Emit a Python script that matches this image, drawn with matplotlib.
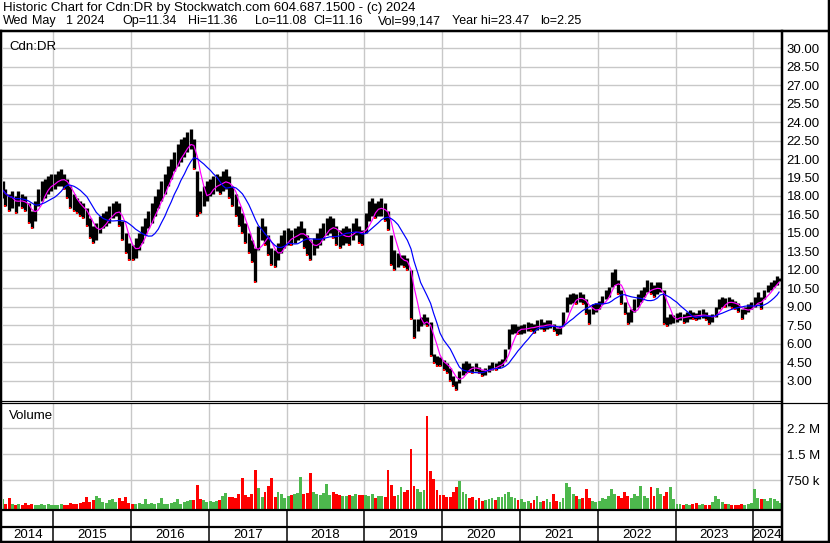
import numpy as np
import pandas as pd
import matplotlib
matplotlib.use('Agg')
import matplotlib.pyplot as plt
from matplotlib.lines import Line2D

plt.rcParams['font.family'] = ['Liberation Sans', 'DejaVu Sans']

# semi-monthly price ranges (low / high), May 2014 .. Apr 2024
low_2014 = [17.8, 17.2, 16.8, 17.0, 16.6, 17.2, 17.0, 16.8, 15.8, 15.4, 16.0, 17.2, 17.6, 17.8, 18.2, 18.4]
high_2014 = [19.2, 18.6, 18.2, 18.4, 18.0, 18.4, 18.2, 18.0, 17.4, 16.8, 17.6, 18.6, 19.2, 19.4, 19.6, 19.8]
low_2015 = [18.6, 18.8, 18.8, 18.6, 17.8, 17.0, 16.8, 16.6, 16.4, 16.2, 15.6, 14.6, 14.2, 14.4, 15.0, 15.4,
            15.6, 15.8, 16.2, 16.4, 15.6, 14.4, 13.4, 12.8]
high_2015 = [19.8, 20.0, 20.2, 19.8, 19.4, 18.8, 18.2, 17.8, 17.6, 17.4, 17.0, 16.2, 15.6, 15.8, 16.4, 16.6,
             16.8, 17.2, 17.4, 17.6, 17.4, 16.0, 15.0, 14.2]
low_2016 = [12.8, 13.0, 13.6, 14.2, 14.8, 15.4, 15.8, 16.4, 17.0, 17.6, 18.2, 18.8, 19.4, 20.0, 20.4, 20.8,
            21.2, 21.6, 21.8, 20.2, 16.4, 16.6, 17.2, 17.6]
high_2016 = [14.0, 14.6, 15.0, 15.6, 16.2, 16.8, 17.4, 18.0, 18.6, 19.2, 19.8, 20.4, 21.0, 21.6, 22.2, 22.6,
             22.8, 23.2, 23.47, 22.6, 20.0, 18.4, 18.8, 19.2]
low_2017 = [18.0, 18.2, 18.4, 18.2, 18.4, 18.6, 17.8, 17.2, 16.4, 15.6, 15.0, 14.2, 13.4, 12.6, 11.0, 13.6,
            14.4, 14.0, 13.2, 12.4, 12.2, 12.8, 13.4, 13.8]
high_2017 = [19.4, 19.6, 19.8, 19.6, 20.0, 20.2, 19.6, 18.8, 18.2, 17.2, 16.6, 15.8, 15.0, 14.4, 13.8, 15.6,
             16.2, 15.6, 14.8, 13.8, 13.6, 14.2, 14.8, 15.2]
low_2018 = [14.0, 14.0, 14.2, 14.4, 14.6, 13.8, 13.2, 12.8, 13.2, 13.8, 14.0, 14.4, 14.8, 15.0, 14.6, 14.0,
            13.8, 14.0, 14.2, 14.0, 14.4, 14.8, 14.2, 14.0]
high_2018 = [15.4, 15.2, 15.4, 15.6, 16.0, 15.4, 14.8, 14.4, 14.6, 15.0, 15.4, 15.8, 16.2, 16.4, 16.2, 15.6,
             15.2, 15.4, 15.6, 15.4, 15.8, 16.2, 15.6, 15.2]
low_2019 = [15.0, 16.0, 16.4, 16.2, 16.4, 16.4, 16.0, 15.2, 12.4, 12.0, 12.2, 12.4, 12.2, 12.0, 8.0, 6.5,
            7.0, 7.4, 7.6, 7.4, 5.0, 4.4, 4.2, 4.2]
high_2019 = [16.6, 17.6, 17.8, 17.4, 17.6, 17.8, 17.4, 16.8, 14.8, 13.6, 13.4, 13.2, 13.2, 13.0, 12.0, 8.0,
             8.0, 8.2, 8.4, 8.2, 7.8, 5.2, 5.0, 4.9]
low_2020 = [3.9, 3.6, 3.0, 2.6, 2.25, 2.8, 3.5, 3.6, 3.7, 3.6, 3.8, 3.6, 3.4, 3.5, 3.7, 3.9,
            3.9, 4.0, 4.2, 4.6, 5.6, 6.8, 6.9, 6.8]
high_2020 = [4.7, 4.4, 4.0, 3.4, 3.0, 3.8, 4.4, 4.6, 4.4, 4.2, 4.4, 4.1, 3.9, 4.0, 4.3, 4.5,
             4.4, 4.6, 4.8, 5.6, 7.2, 7.6, 7.6, 7.4]
low_2021 = [6.8, 6.9, 7.0, 7.0, 6.9, 7.1, 7.2, 7.0, 7.2, 7.3, 7.0, 6.7, 6.8, 7.4, 8.6, 9.2,
            9.3, 9.2, 9.4, 9.2, 8.4, 7.6, 8.4, 8.6]
high_2021 = [7.5, 7.6, 7.8, 7.7, 7.6, 7.9, 8.0, 7.8, 7.9, 7.9, 7.6, 7.3, 7.4, 8.6, 9.8, 10.0,
             10.1, 10.0, 10.2, 10.0, 9.6, 8.8, 9.2, 9.3]
low_2022 = [8.8, 9.2, 9.6, 9.8, 10.6, 10.8, 10.0, 9.2, 8.4, 7.6, 7.8, 8.6, 9.0, 9.4, 9.8, 10.2,
            10.0, 9.8, 10.0, 10.2, 7.6, 7.4, 7.6, 7.7]
high_2022 = [9.5, 9.9, 10.4, 10.6, 11.8, 12.1, 11.2, 10.4, 9.4, 8.6, 8.8, 9.6, 10.0, 10.4, 10.6, 11.2,
             11.0, 10.8, 11.0, 11.0, 10.4, 8.2, 8.4, 8.3]
low_2023 = [7.8, 7.9, 7.7, 7.8, 8.0, 8.0, 7.9, 8.0, 8.1, 7.9, 7.6, 7.8, 8.2, 8.8, 9.0, 9.0,
            9.1, 8.9, 8.8, 8.6, 8.0, 8.4, 8.6, 8.8]
high_2023 = [8.5, 8.6, 8.4, 8.6, 8.7, 8.6, 8.5, 8.7, 8.8, 8.6, 8.3, 8.4, 9.0, 9.6, 9.8, 9.7,
             9.8, 9.6, 9.5, 9.3, 8.8, 9.0, 9.2, 9.4]
low_2024 = [9.0, 9.2, 8.8, 9.6, 10.2, 10.4, 10.6, 10.8, 11.08]
high_2024 = [9.8, 10.2, 9.8, 10.4, 10.8, 11.0, 11.2, 11.5, 11.36]

# typical daily volume in each half month (thousands of shares)
vol_2014 = [200, 60, 230, 80, 50, 60, 40, 90, 40, 70, 50, 40, 70, 50, 60, 40]
vol_2015 = [50, 40, 60, 50, 40, 90, 70, 60, 100, 130, 260, 120, 180, 306, 250, 120,
            100, 170, 200, 130, 230, 150, 280, 100]
vol_2016 = [80, 60, 100, 70, 200, 80, 90, 70, 100, 230, 80, 70, 100, 120, 210, 80,
            110, 150, 190, 180, 615, 200, 190, 130]
vol_2017 = [150, 120, 160, 180, 300, 392, 280, 260, 230, 350, 815, 320, 280, 350, 1060, 520,
            280, 400, 585, 815, 280, 400, 350, 250]
vol_2018 = [300, 320, 350, 380, 845, 350, 380, 960, 420, 350, 330, 380, 643, 330, 400, 360,
            330, 300, 290, 340, 290, 360, 320, 340]
vol_2019 = [340, 290, 360, 240, 300, 290, 270, 1050, 600, 290, 330, 548, 400, 480, 1650, 580,
            500, 400, 480, 2600, 1020, 780, 460, 330]
vol_2020 = [330, 280, 260, 400, 548, 730, 413, 350, 230, 280, 180, 230, 160, 180, 200, 230,
            180, 260, 280, 350, 420, 280, 230, 180]
vol_2021 = [200, 120, 150, 100, 180, 300, 120, 150, 200, 120, 355, 150, 120, 250, 680, 556,
            350, 300, 200, 250, 498, 250, 150, 120]
vol_2022 = [150, 250, 200, 300, 498, 350, 300, 250, 412, 300, 250, 350, 300, 585, 300, 250,
            547, 300, 537, 350, 300, 400, 566, 200]
vol_2023 = [80, 60, 50, 70, 40, 60, 90, 50, 60, 40, 50, 130, 290, 200, 120, 60,
            80, 50, 40, 50, 60, 50, 70, 90]
vol_2024 = [498, 250, 200, 220, 150, 250, 200, 150, 99]

years = list(range(2014, 2025))
price_ticks = [3.0, 4.5, 6.0, 7.5, 9.0, 10.5, 12.0, 13.5, 15.0, 16.5, 18.0, 19.5, 21.0,
               22.5, 24.0, 25.5, 27.0, 28.5, 30.0]
vol_ticks = [750e3, 1.5e6, 2.25e6]
vol_tick_labels = ['750 k', '1.5 M', '2.2 M']

title1 = 'Historic Chart for Cdn:DR by Stockwatch.com 604.687.1500 - (c) 2024'
# second header line, one field per entry with its left edge in pixels
title2_fields = ['Wed', 'May', '1 2024', 'Op=11.34', 'Hi=11.36', 'Lo=11.08', 'Cl=11.16',
                 'Vol=99,147', 'Year hi=23.47', 'lo=2.25']
title2_x = [3, 32, 66, 122, 188, 255, 313, 378, 452, 540]

lows = np.array(low_2014 + low_2015 + low_2016 + low_2017 + low_2018 + low_2019
                + low_2020 + low_2021 + low_2022 + low_2023 + low_2024)
highs = np.array(high_2014 + high_2015 + high_2016 + high_2017 + high_2018 + high_2019
                 + high_2020 + high_2021 + high_2022 + high_2023 + high_2024)
vols = np.array(vol_2014 + vol_2015 + vol_2016 + vol_2017 + vol_2018 + vol_2019
                + vol_2020 + vol_2021 + vol_2022 + vol_2023 + vol_2024) * 1000.0

dates = pd.date_range('2014-05-01', '2024-04-15', freq='SMS') + pd.Timedelta(days=7)
dates = dates.append(pd.DatetimeIndex(['2024-05-01']))
t = np.array(dates.year + (dates.dayofyear - 1) / 365.25)

mid = (lows + highs) / 2
ma_short = pd.Series(mid).rolling(4, min_periods=1).mean()
ma_long = pd.Series(mid).rolling(10, min_periods=1).mean()
up = np.r_[True, np.diff(mid) >= 0]

W, H = 830, 543
PX = 0.72  # one pixel in points
FS = 9.5


def fx(px):
    return px / W


def fy(py):
    return 1 - py / H


fig = plt.figure(figsize=(W / 100, H / 100), dpi=100)
xlim = (2014.354, 2024.356)
grid_c = '#c8c8c8'

# price panel
ax = fig.add_axes([fx(3), fy(400), fx(781) - fx(3), fy(32) - fy(400)])
ax.set_xlim(xlim)
ax.set_ylim(1.43, 31.32)
ax.set_yticks(price_ticks)
ax.set_yticklabels(['%.2f' % v for v in price_ticks])
ax.set_xticks(years[1:])
ax.tick_params(axis='x', bottom=False, labelbottom=False)
ax.yaxis.tick_right()
ax.tick_params(axis='y', length=0, pad=4, labelsize=FS)
ax.grid(True, color=grid_c, lw=1.4 * PX)
ax.set_axisbelow(True)
for s in ax.spines.values():
    s.set_visible(False)
ax.vlines(t, lows, highs, color='black', lw=3.3 * PX, zorder=2)
down = ~up
ax.plot(t[down], lows[down], 's', color='red', ms=1.8, mew=0, zorder=3)
ax.plot(t, ma_short, color='#ff00ff', lw=1.2 * PX, zorder=4)
ax.plot(t, ma_long, color='#0000ff', lw=1.2 * PX, zorder=4)
ax.text(0.008, 0.975, 'Cdn:DR', transform=ax.transAxes, ha='left', va='top', fontsize=FS)

# volume panel
axv = fig.add_axes([fx(3), fy(509), fx(781) - fx(3), fy(403) - fy(509)])
axv.set_xlim(xlim)
vbot = -78e3
axv.set_ylim(vbot, 2.98e6)
axv.set_yticks(vol_ticks)
axv.set_yticklabels(vol_tick_labels)
axv.set_xticks(years[1:])
axv.tick_params(axis='x', bottom=False, labelbottom=False)
axv.yaxis.tick_right()
axv.tick_params(axis='y', length=0, pad=4, labelsize=FS)
axv.grid(True, color=grid_c, lw=1.4 * PX)
axv.set_axisbelow(True)
for s in axv.spines.values():
    s.set_visible(False)
colors = np.where(up, '#4db84d', '#ff0000')
axv.bar(t, vols - vbot, bottom=vbot, width=1 / 24 * 0.9, color=colors, lw=0, zorder=2)
axv.text(0.008, 0.93, 'Volume', transform=axv.transAxes, ha='left', va='top', fontsize=FS)

# year strip
axs = fig.add_axes([fx(3), fy(541), fx(781) - fx(3), fy(509) - fy(541)])
axs.set_xlim(xlim)
axs.set_ylim(0, 32)
axs.axis('off')
for y in years[1:]:
    axs.axvline(y, color='black', lw=1.5 * PX)
for y in years:
    c = (max(y, xlim[0]) + min(y + 1, xlim[1])) / 2
    axs.text(c, 6.5, str(y), ha='center', va='center', fontsize=FS)


def hline(y, x0, x1, w):
    fig.add_artist(Line2D([fx(x0), fx(x1)], [fy(y), fy(y)], color='black', lw=w * PX))


def vline(x, y0, y1, w):
    fig.add_artist(Line2D([fx(x), fx(x)], [fy(y0), fy(y1)], color='black', lw=w * PX))


hline(31, 0, 830, 2.5)
hline(400.5, 0, 781, 1.2)
hline(402.8, 0, 830, 1.2)
hline(510, 0, 781, 2.2)
hline(527, 0, 781, 2.2)
hline(541.5, 0, 830, 2.5)
vline(1, 31, 542, 2.5)
vline(781.5, 31, 542, 2.5)
vline(828.5, 0, 542, 2.5)

fig.text(fx(3), fy(8), title1, ha='left', va='center', fontsize=FS)
for s, xp in zip(title2_fields, title2_x):
    fig.text(fx(xp), fy(21), s, ha='left', va='center', fontsize=9.0)

fig.savefig('out.png', dpi=100)
